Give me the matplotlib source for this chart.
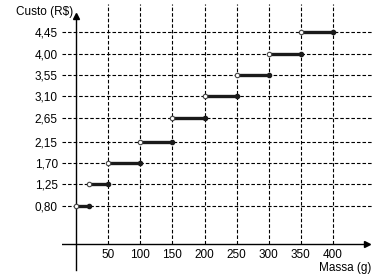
import matplotlib
matplotlib.use("Agg")
import matplotlib.pyplot as plt

# Data
seg_start = [0, 20, 50, 100, 150, 200, 250, 300, 350]
seg_end = [20, 50, 100, 150, 200, 250, 300, 350, 400]
cost = [0.80, 1.25, 1.70, 2.15, 2.65, 3.10, 3.55, 4.00, 4.45]
x_ticks = [50, 100, 150, 200, 250, 300, 350, 400]
y_ticks = [0.80, 1.25, 1.70, 2.15, 2.65, 3.10, 3.55, 4.00, 4.45]
y_labels = ["0,80", "1,25", "1,70", "2,15", "2,65", "3,10", "3,55", "4,00", "4,45"]

plt.rcParams['font.family'] = ['Liberation Sans', 'DejaVu Sans']

fig = plt.figure(figsize=(3.86, 2.79), dpi=100)
ax = fig.add_axes([62/386, 1 - 272/279, 310/386, 268/279])
xmin, xmax = -21.8, 460.7
ymin, ymax = -0.588, 5.04
ax.set_xlim(xmin, xmax)
ax.set_ylim(ymin, ymax)

dash = (0, (3.2, 1.8))
# grid
ax.hlines(y_ticks, xmin, 460, colors='black', linestyles=dash, linewidth=0.8, zorder=1)
ax.vlines(x_ticks, 0, ymax, colors='black', linestyles=dash, linewidth=0.8, zorder=1)

# axes lines
y_top = 4.87
ax.plot([0, 0], [ymin + 0.05, y_top - 0.1], color='black', lw=1.0, zorder=2)
ax.plot([0], [y_top - 0.08], marker='^', color='black', markersize=4, zorder=2)
ax.plot([xmin, 452], [0, 0], color='black', lw=1.0, zorder=2)
ax.plot([453], [0], marker='>', color='black', markersize=4, zorder=2)

# segments
for xs, xe, c in zip(seg_start, seg_end, cost):
    ax.plot([xs, xe], [c, c], color='#1a1a1a', lw=2.4, solid_capstyle='butt', zorder=3)
    ax.plot([xe], [c], marker='o', markersize=3, color='#1a1a1a', zorder=4)
    ax.plot([xs], [c], marker='o', markersize=3.2, markerfacecolor='white',
            markeredgecolor='#444444', markeredgewidth=0.8, zorder=5)

for s in ax.spines.values():
    s.set_visible(False)

ax.set_yticks(y_ticks)
ax.set_yticklabels(y_labels)
ax.tick_params(axis='y', length=0, pad=3, labelsize=8.5)
ax.set_xticks([])
for xt in x_ticks:
    ax.text(xt, -0.1, str(xt), ha='center', va='top', fontsize=8.5)

ax.text(-4, y_top, "Custo (R$)", ha='right', va='center', fontsize=8.5)
ax.text(460, -0.5, "Massa (g)", ha='right', va='center', fontsize=8.5)

fig.savefig("out.png", dpi=100)
